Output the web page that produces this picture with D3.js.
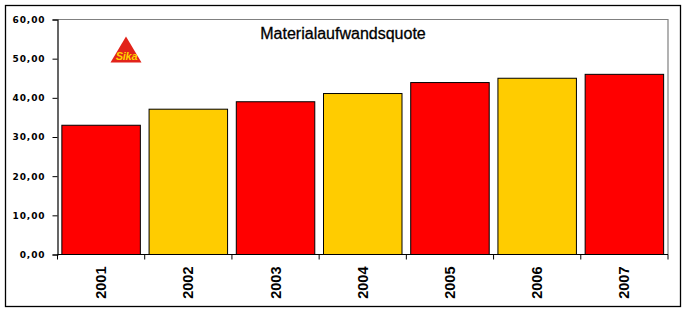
<!DOCTYPE html>
<html>
<head>
<meta charset="utf-8">
<script src="https://cdn.jsdelivr.net/npm/d3@7"></script>
<style>
  body { margin: 0; background: #fff; }
  svg { display: block; }
</style>
</head>
<body>
<svg id="chart"></svg>
<script>
const years = ["2001", "2002", "2003", "2004", "2005", "2006", "2007"];
const quote = [33.0, 37.1, 39.0, 41.1, 43.9, 45.0, 46.0];
const barColors = ["#ff0000", "#ffcc00"];
const yTicks = [0, 10, 20, 30, 40, 50, 60];
const title = "Materialaufwandsquote";

const width = 687, height = 312;
const margin = { top: 19.5, right: 19, bottom: 57.5, left: 57.5 };

const svg = d3.select("#chart").attr("width", width).attr("height", height);

// outer frame
svg.append("rect")
  .attr("x", 5.5).attr("y", 5.5)
  .attr("width", 675).attr("height", 301)
  .attr("fill", "#fff").attr("stroke", "#000").attr("stroke-width", 1.3);

const x = d3.scaleBand().domain(years)
  .range([margin.left, width - margin.right])
  .paddingInner(0.1).paddingOuter(0.05);
const y = d3.scaleLinear().domain([0, 60])
  .range([height - margin.bottom, margin.top]);

// plot frame (top, right grey)
svg.append("path")
  .attr("d", `M${margin.left},${y(60)}H${width - margin.right}V${y(0)}`)
  .attr("fill", "none").attr("stroke", "#808080").attr("stroke-width", 1.2);

// bars
svg.selectAll("rect.bar").data(years).enter().append("rect")
  .attr("class", "bar")
  .attr("x", d => x(d))
  .attr("width", x.bandwidth())
  .attr("y", (d, i) => y(quote[i]))
  .attr("height", (d, i) => y(0) - y(quote[i]))
  .attr("fill", (d, i) => barColors[i % 2])
  .attr("stroke", "#000").attr("stroke-width", 1);

// y axis
const yAxis = svg.append("g")
  .attr("transform", `translate(${margin.left},0)`)
  .call(d3.axisLeft(y).tickValues(yTicks).tickSize(5).tickPadding(7)
    .tickFormat(d => d3.format(".2f")(d).replace(".", ",")));
yAxis.select(".domain").attr("stroke", "#000").attr("stroke-width", 1.2);
yAxis.selectAll("text")
  .attr("font-family", "Verdana, 'DejaVu Sans', sans-serif")
  .attr("font-weight", "bold").attr("font-size", 9).attr("fill", "#000")
  .attr("letter-spacing", 0.9);

// x axis with ticks at band edges
const xAxis = svg.append("g")
  .attr("transform", `translate(0,${y(0)})`);
xAxis.append("line")
  .attr("x1", margin.left).attr("x2", width - margin.right)
  .attr("stroke", "#000").attr("stroke-width", 1.2);
const edges = years.map(d => x(d) - x.step() * x.paddingInner() / 2)
  .concat([width - margin.right]);
xAxis.selectAll("line.tick").data(edges).enter().append("line")
  .attr("class", "tick")
  .attr("x1", d => d).attr("x2", d => d)
  .attr("y1", 0).attr("y2", 5)
  .attr("stroke", "#000").attr("stroke-width", 1);
xAxis.selectAll("text").data(years).enter().append("text")
  .attr("transform", d => `translate(${x(d) + x.bandwidth() / 2 + 5},12) rotate(-90)`)
  .attr("text-anchor", "end")
  .attr("font-family", "Arial, 'Liberation Sans', sans-serif")
  .attr("font-weight", "bold").attr("font-size", 14.5)
  .text(d => d);

// title
svg.append("text")
  .attr("x", 343).attr("y", 39)
  .attr("text-anchor", "middle")
  .attr("font-family", "Arial, 'Liberation Sans', sans-serif")
  .attr("font-size", 16).attr("fill", "#000")
  .attr("stroke", "#000").attr("stroke-width", 0.3)
  .text(title);

// Sika logo
const logo = svg.append("g").attr("transform", "translate(126,36.5)");
logo.append("path").attr("d", "M0,0L15.5,26H-15.5Z").attr("fill", "#e2231a");
logo.append("text")
  .attr("x", 0.5).attr("y", 23)
  .attr("text-anchor", "middle")
  .attr("font-family", "Arial, 'Liberation Sans', sans-serif")
  .attr("font-style", "italic").attr("font-weight", "bold")
  .attr("font-size", 11).attr("fill", "#ffd200")
  .attr("letter-spacing", -0.3)
  .text("Sika");
</script>
</body>
</html>
